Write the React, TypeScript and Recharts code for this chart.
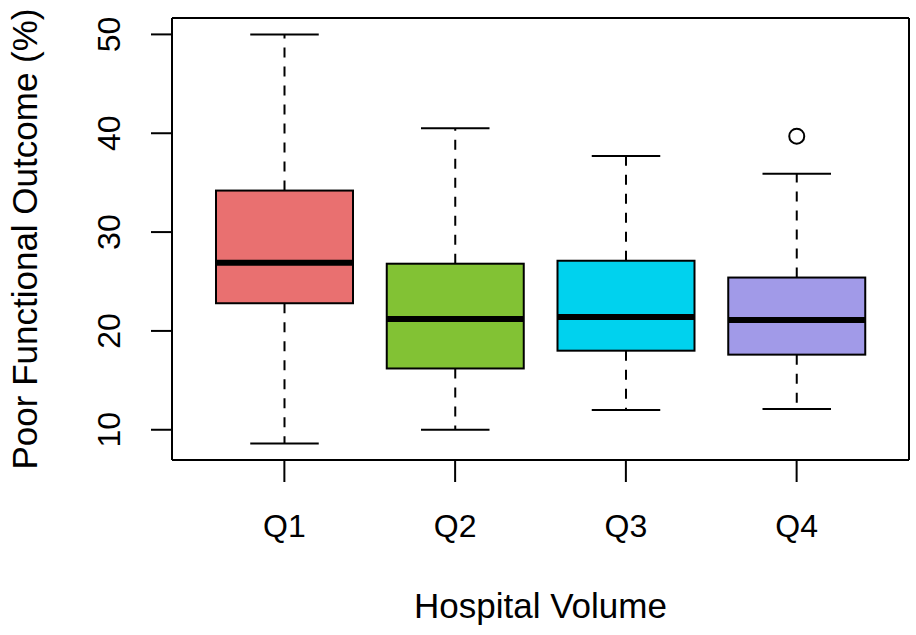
import React from "react";
import { Bar, ComposedChart, XAxis, YAxis } from "recharts";

const categories = ["Q1", "Q2", "Q3", "Q4"];
const whiskerLow = [8.6, 10.0, 12.0, 12.1];
const lowerQuartile = [22.8, 16.2, 18.0, 17.6];
const medians = [26.9, 21.2, 21.4, 21.1];
const upperQuartile = [34.2, 26.8, 27.1, 25.4];
const whiskerHigh = [50.0, 40.5, 37.7, 35.9];
const outliers: number[][] = [[], [], [], [39.7]];
const yTicks = [10, 20, 30, 40, 50];

const BOX_COLORS = ["#E97070", "#82C234", "#00D2EE", "#A19AE8"];
const FONT = "'Liberation Sans', Arial, sans-serif";
const Y_DOMAIN: [number, number] = [6.94, 51.66];

const data = categories.map((name, i) => ({
  name,
  range: [whiskerLow[i], whiskerHigh[i]],
  low: whiskerLow[i],
  q1: lowerQuartile[i],
  median: medians[i],
  q3: upperQuartile[i],
  high: whiskerHigh[i],
  outliers: outliers[i],
  color: BOX_COLORS[i],
}));

function BoxShape(props: any) {
  const { x, y, width, height, payload } = props;
  const { low, high, q1, q3, median, color } = payload;
  const k = Math.abs(height) / (high - low);
  const top = Math.min(y, y + height);
  const toY = (v: number) => top + (high - v) * k;
  const cx = x + width / 2;
  const cap = width / 4;

  return (
    <g>
      <line x1={cx} x2={cx} y1={toY(q3)} y2={toY(high)} stroke="#000" strokeWidth={2} strokeDasharray="10 9" />
      <line x1={cx} x2={cx} y1={toY(q1)} y2={toY(low)} stroke="#000" strokeWidth={2} strokeDasharray="10 9" />
      <line x1={cx - cap} x2={cx + cap} y1={toY(high)} y2={toY(high)} stroke="#000" strokeWidth={2} />
      <line x1={cx - cap} x2={cx + cap} y1={toY(low)} y2={toY(low)} stroke="#000" strokeWidth={2} />
      <rect x={x} y={toY(q3)} width={width} height={toY(q1) - toY(q3)} fill={color} stroke="#000" strokeWidth={2} />
      <line x1={x} x2={x + width} y1={toY(median)} y2={toY(median)} stroke="#000" strokeWidth={6} />
      {payload.outliers.map((v: number, j: number) => (
        <circle key={j} cx={cx} cy={toY(v)} r={7.5} fill="#fff" stroke="#000" strokeWidth={2} />
      ))}
    </g>
  );
}

function XTick({ x, y, payload }: any) {
  return (
    <text x={x} y={y} dy={55} textAnchor="middle" fontFamily={FONT} fontSize={32} fill="#000">
      {payload.value}
    </text>
  );
}

function YTick({ x, y, payload }: any) {
  const tx = x - 31;
  return (
    <text x={tx} y={y} transform={`rotate(-90 ${tx} ${y})`} textAnchor="middle" fontFamily={FONT} fontSize={32} fill="#000">
      {payload.value}
    </text>
  );
}

export default function App() {
  return (
    <div style={{ position: "absolute", left: 0, top: 0, background: "#fff" }}>
      <ComposedChart width={916} height={635} data={data} margin={{ top: 17, right: 6, left: 0, bottom: 0 }}>
        <XAxis
          dataKey="name"
          height={175}
          padding={{ left: 27, right: 27 }}
          tickSize={22}
          tickMargin={0}
          tick={<XTick />}
          tickLine={{ stroke: "#000", strokeWidth: 2 }}
          axisLine={{ stroke: "#000", strokeWidth: 2 }}
          label={(p: any) => {
            const vb = p.viewBox;
            return (
              <text x={vb.x + vb.width / 2} y={618} textAnchor="middle" fontFamily={FONT} fontSize={35} fill="#000">
                Hospital Volume
              </text>
            );
          }}
        />
        <XAxis
          xAxisId="top"
          orientation="top"
          dataKey="name"
          height={1}
          tick={false}
          tickLine={false}
          axisLine={{ stroke: "#000", strokeWidth: 2 }}
        />
        <YAxis
          type="number"
          domain={Y_DOMAIN}
          ticks={yTicks}
          allowDataOverflow
          width={172}
          tickSize={21}
          tickMargin={0}
          tick={<YTick />}
          tickLine={{ stroke: "#000", strokeWidth: 2 }}
          axisLine={{ stroke: "#000", strokeWidth: 2 }}
          label={(p: any) => {
            const vb = p.viewBox;
            const cy = vb.y + vb.height / 2;
            return (
              <text x={37} y={cy} transform={`rotate(-90 37 ${cy})`} textAnchor="middle" fontFamily={FONT} fontSize={35} fill="#000">
                Poor Functional Outcome (%)
              </text>
            );
          }}
        />
        <YAxis
          yAxisId="right"
          orientation="right"
          type="number"
          domain={Y_DOMAIN}
          width={1}
          tick={false}
          tickLine={false}
          axisLine={{ stroke: "#000", strokeWidth: 2 }}
        />
        <Bar dataKey="range" barSize={137} shape={<BoxShape />} isAnimationActive={false} />
      </ComposedChart>
    </div>
  );
}
